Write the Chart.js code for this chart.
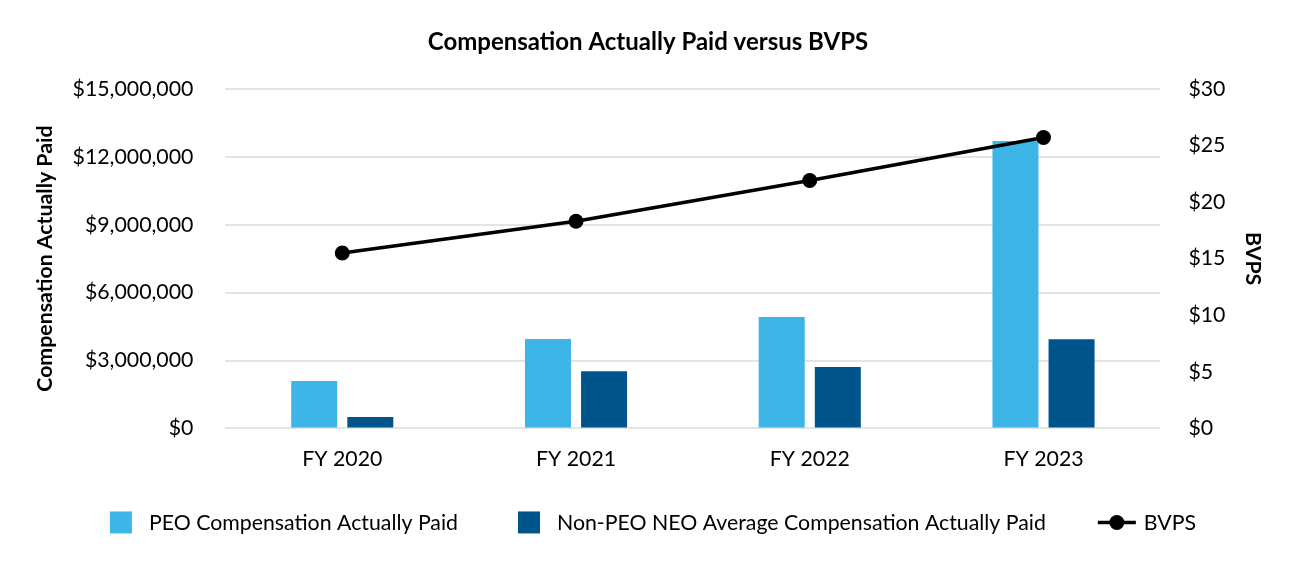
<!DOCTYPE html>
<html>
<head>
<meta charset="utf-8">
<script src="https://cdn.jsdelivr.net/npm/chart.js@4.4.0/dist/chart.umd.min.js"></script>
<style>
html,body{margin:0;padding:0;background:#fff;}
#wrap{width:1300px;height:576px;position:relative;}
</style>
</head>
<body>
<div id="wrap"><canvas id="c" width="1300" height="576"></canvas></div>
<script>
const categories = ["FY 2020", "FY 2021", "FY 2022", "FY 2023"];
const peoCAP = [2100000, 3950000, 4920000, 12700000];
const nonPeoCAP = [500000, 2530000, 2710000, 3940000];
const bvps = [15.5, 18.3, 21.9, 25.7];
const leftTicks = [0, 3000000, 6000000, 9000000, 12000000, 15000000];
const rightTicks = [0, 5, 10, 15, 20, 25, 30];

const FONT = "Lato, 'Open Sans', sans-serif";
const FS = 21.3;
const LIGHT = "#3DB5E6";
const DARK = "#00548C";

const fmtMoney = v => '$' + Number(v).toLocaleString('en-US');

// Custom legend drawn below the x axis
const legendPlugin = {
  id: 'customLegend',
  afterDraw(chart) {
    const ctx = chart.ctx;
    const ds = chart.data.datasets;
    ctx.save();
    ctx.font = FS + 'px ' + FONT;
    ctx.textBaseline = 'middle';
    ctx.textAlign = 'left';
    const box = 22, boxGap = 17, lineLen = 38, lineGap = 8;
    const itemGaps = [60, 52];
    const items = ds.map(d => {
      const tw = ctx.measureText(d.label).width;
      const iconW = d.type === 'line' ? lineLen : box;
      const gap = d.type === 'line' ? lineGap : boxGap;
      return { d, tw, iconW, gap, w: iconW + gap + tw };
    });
    let total = items.reduce((s, it) => s + it.w, 0) + itemGaps.reduce((a, b) => a + b, 0);
    let x = chart.width / 2 + 3 - total / 2;
    const y = chart.chartArea.bottom + 94;
    items.forEach((it, i) => {
      if (it.d.type === 'line') {
        ctx.strokeStyle = it.d.borderColor;
        ctx.lineWidth = 3.5;
        ctx.beginPath(); ctx.moveTo(x, y); ctx.lineTo(x + lineLen, y); ctx.stroke();
        ctx.fillStyle = it.d.borderColor;
        ctx.beginPath(); ctx.arc(x + lineLen / 2, y, 7.5, 0, Math.PI * 2); ctx.fill();
      } else {
        ctx.fillStyle = it.d.backgroundColor;
        ctx.fillRect(x, y - box / 2, box, box);
      }
      ctx.fillStyle = '#000';
      ctx.fillText(it.d.label, x + it.iconW + it.gap, y + 1);
      x += it.w + (itemGaps[i] || 0);
    });
    ctx.restore();
  }
};

new Chart(document.getElementById('c'), {
  data: {
    labels: categories,
    datasets: [
      { type: 'bar', label: 'PEO Compensation Actually Paid', data: peoCAP, backgroundColor: LIGHT, yAxisID: 'y', order: 2,
        barPercentage: 0.82, categoryPercentage: 0.48 },
      { type: 'bar', label: 'Non-PEO NEO Average Compensation Actually Paid', data: nonPeoCAP, backgroundColor: DARK, yAxisID: 'y', order: 2,
        barPercentage: 0.82, categoryPercentage: 0.48 },
      { type: 'line', label: 'BVPS', data: bvps, borderColor: '#000', backgroundColor: '#000', borderWidth: 3.5,
        pointRadius: 7.5, pointHoverRadius: 7.5, pointBackgroundColor: '#000', pointBorderWidth: 0, yAxisID: 'y1', order: 1, tension: 0 }
    ]
  },
  plugins: [legendPlugin],
  options: {
    responsive: false,
    animation: false,
    layout: { padding: { left: -3, right: 1, top: 10, bottom: 86 } },
    plugins: {
      title: { display: true, text: 'Compensation Actually Paid versus BVPS', color: '#000',
        font: { family: FONT, size: 24, weight: 'bold' }, padding: { top: 18, bottom: 32 } },
      tooltip: { enabled: false },
      legend: { display: false }
    },
    scales: {
      x: {
        grid: { display: false, drawTicks: false },
        border: { display: false },
        ticks: { color: '#000', font: { family: FONT, size: FS }, padding: 18 }
      },
      y: {
        position: 'left', min: 0, max: 15000000,
        afterBuildTicks: a => { a.ticks = leftTicks.map(v => ({ value: v })); },
        grid: { color: '#e4e4e4', lineWidth: 2, drawTicks: false },
        border: { display: false },
        ticks: { color: '#000', font: { family: FONT, size: FS }, padding: 32, callback: v => fmtMoney(v) },
        title: { display: true, text: 'Compensation Actually Paid', color: '#000', font: { family: FONT, size: FS, weight: 'bold' }, padding: { top: 35, bottom: -17 } }
      },
      y1: {
        position: 'right', min: 0, max: 30,
        afterBuildTicks: a => { a.ticks = rightTicks.map(v => ({ value: v })); },
        grid: { display: false, drawTicks: false },
        border: { display: false },
        ticks: { color: '#000', font: { family: FONT, size: FS }, padding: 28, callback: v => '$' + v },
        title: { display: true, text: 'BVPS', color: '#000', font: { family: FONT, size: FS, weight: 'bold' }, padding: { top: 33, bottom: -13 } }
      }
    }
  }
});
</script>
</body>
</html>
